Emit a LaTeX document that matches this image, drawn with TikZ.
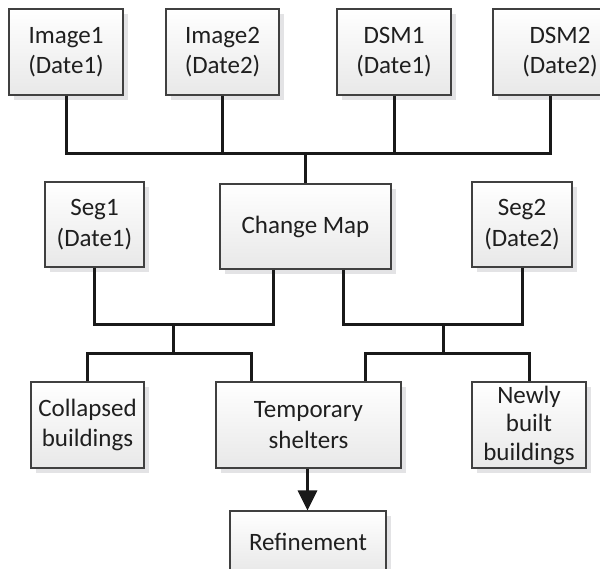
\documentclass[tikz,border=0pt]{standalone}
\usepackage{fontspec}
\setmainfont{Carlito}
\usetikzlibrary{shadows,arrows.meta}
\definecolor{shadowgray}{HTML}{E3E3E5}
\definecolor{boxline}{HTML}{404040}
\tikzset{
  box/.style={draw=boxline, line width=1.1pt, top color=white, bottom color=black!9,
    drop shadow={shadow xshift=5pt, shadow yshift=-5pt, fill=shadowgray, opacity=1},
    inner sep=0pt, align=center, text=black!88,
    font=\fontsize{25}{30.5}\selectfont},
  conn/.style={line width=3pt, draw=black!90, line join=miter},
}
\begin{document}
\begin{tikzpicture}[x=1pt,y=-1pt]
\useasboundingbox (0,0) rectangle (600,568);
\clip (0,0) rectangle (600,568);
% top row
\node[box, minimum width=114pt, minimum height=86pt] (img1) at (66,52) {Image1\\(Date1)};
\node[box, minimum width=113pt, minimum height=86pt] (img2) at (222.5,52) {Image2\\(Date2)};
\node[box, minimum width=114pt, minimum height=86pt] (dsm1) at (394,52) {DSM1\\(Date1)};
\node[box, minimum width=134pt, minimum height=86pt] (dsm2) at (560,52) {DSM2\\(Date2)};
% second row
\node[box, minimum width=99pt, minimum height=85pt] (seg1) at (94.5,224.5) {Seg1\\(Date1)};
\node[box, minimum width=171pt, minimum height=85pt] (cmap) at (305.5,226.5) {Change Map};
\node[box, minimum width=100pt, minimum height=85pt] (seg2) at (522,224.5) {Seg2\\(Date2)};
% third row
\node[box, minimum width=113pt, minimum height=86pt] (coll) at (87.5,425) {Collapsed\\buildings};
\node[box, minimum width=185pt, minimum height=86pt] (temp) at (308.5,425) {Temporary\\shelters};
\node[box, minimum width=114pt, minimum height=86pt, font=\fontsize{25}{28.5}\selectfont] (newb) at (529,425) {Newly\\built\\buildings};
% bottom
\node[box, minimum width=156pt, minimum height=62pt] (ref) at (308,542) {Refinement};

% top bus
\coordinate (b1) at (305,153);
\coordinate (d2) at ([xshift=-10pt]dsm2.south);
\draw[conn] (img1.south) |- (b1);
\draw[conn] (img2.south) |- (b1);
\draw[conn] (dsm1.south) |- (b1);
\draw[conn] (d2) |- (b1);
\draw[conn] (b1) -- (cmap.north -| b1);

% left bus
\coordinate (b2) at (173,324);
\coordinate (b3) at (173,353);
\coordinate (cmL) at ([xshift=-32.5pt]cmap.south);
\coordinate (tpL) at ([xshift=-57.5pt]temp.north);
\draw[conn] (seg1.south) |- (b2);
\draw[conn] (cmL) |- (b2);
\draw[conn] (b2) -- (b3);
\draw[conn] (coll.north) |- (b3);
\draw[conn] (tpL) |- (b3);

% right bus
\coordinate (b4) at (443,324);
\coordinate (b5) at (443,353);
\coordinate (cmR) at ([xshift=37.5pt]cmap.south);
\coordinate (tpR) at ([xshift=56.5pt]temp.north);
\draw[conn] (seg2.south) |- (b4);
\draw[conn] (cmR) |- (b4);
\draw[conn] (b4) -- (b5);
\draw[conn] (newb.north) |- (b5);
\draw[conn] (tpR) |- (b5);

% arrow
\draw[conn, -{Triangle[length=20pt,width=19pt]}] ([xshift=-1pt]temp.south) -- ([xshift=-0.5pt]ref.north);
\end{tikzpicture}
\end{document}
